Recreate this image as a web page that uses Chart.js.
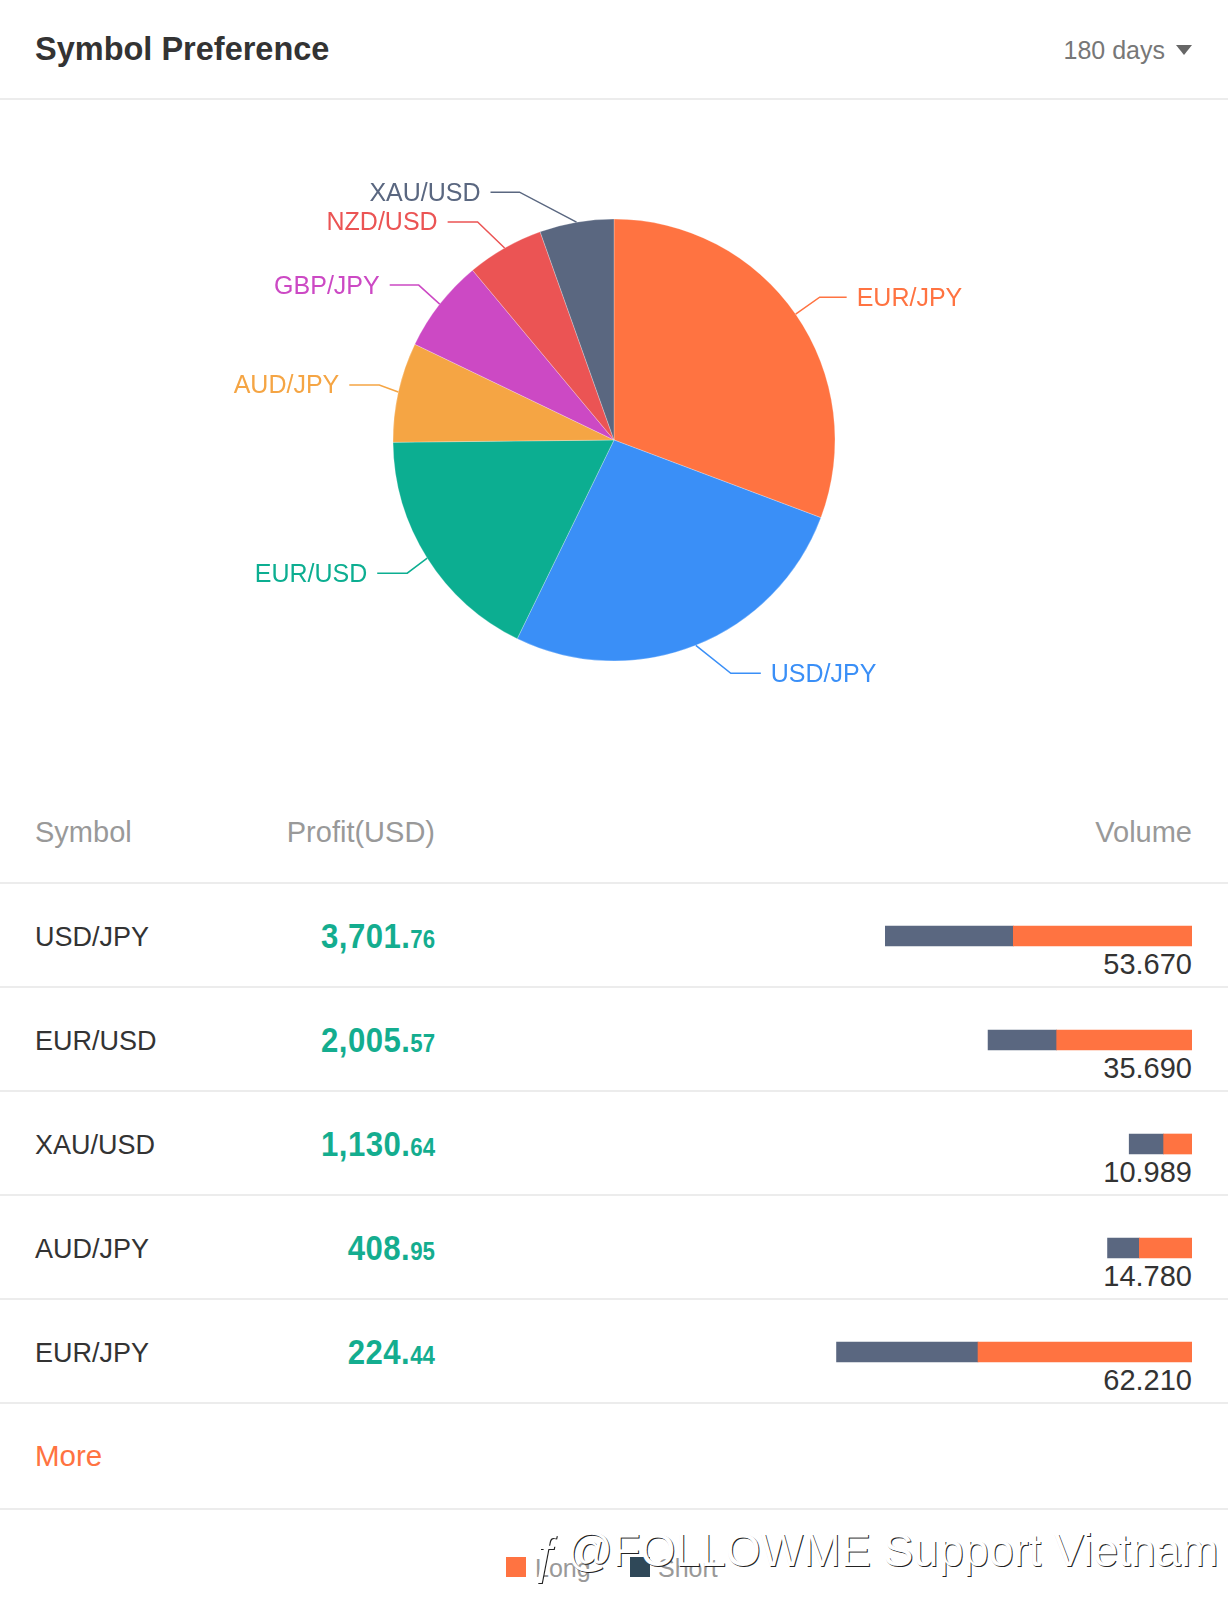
<!DOCTYPE html>
<html>
<head>
<meta charset="utf-8">
<script src="https://cdn.jsdelivr.net/npm/chart.js@4/dist/chart.umd.min.js"></script>
<style>
html,body{margin:0;padding:0;background:#fff}
body{position:relative;width:1228px;height:1618px;overflow:hidden;font-family:"Liberation Sans",sans-serif;color:#333}
.abs{position:absolute;white-space:nowrap}
.line{position:absolute;left:0;width:1228px;height:2px;background:#ececec}
.title{left:35px;top:24px;line-height:50px;font-size:32.5px;font-weight:bold;color:#333}
.range{right:63px;top:30px;line-height:40px;font-size:25px;color:#777}
.tri{position:absolute;left:1176px;top:45px;width:0;height:0;border-left:8px solid transparent;border-right:8px solid transparent;border-top:10px solid #666}
.head{top:812px;line-height:40px;font-size:29px;color:#999}
.sym{left:35px;line-height:40px;font-size:27px;color:#333}
.profit{right:793px;line-height:44px;font-weight:bold;font-size:35px;letter-spacing:0.5px;color:#14ad8f;transform:scaleX(.89);transform-origin:right center}
.profit small{font-size:25px;letter-spacing:0}
.vol{right:36px;line-height:36px;font-size:29px;color:#333}
.more{left:35px;top:1436px;line-height:40px;font-size:29.5px;color:#ff7341}
.sq{position:absolute;top:1557px;width:20px;height:20px}
.leg{top:1550px;line-height:36px;font-size:25px;color:#999}
.mark{left:567px;top:1520px;line-height:60px;font-size:46px;color:#fff;text-shadow:1px 1px 0 #222;transform:scaleX(.98);transform-origin:left center}
.logo{left:530px;top:1524px;line-height:60px;font-size:52px;color:#fff;text-shadow:1px 1px 0 #222;font-style:italic}
#pieBox{position:absolute;left:0;top:101px;width:1228px;height:678px}
#barBox{position:absolute;left:450px;top:884px;width:742px;height:520px}
</style>
</head>
<body>

<div class="abs title">Symbol Preference</div>
<div class="abs range">180 days</div>
<div class="tri"></div>
<div class="line" style="top:98px"></div>

<div id="pieBox"><canvas id="pieChart"></canvas></div>

<div class="abs head" style="left:35px">Symbol</div>
<div class="abs head" style="right:793px">Profit(USD)</div>
<div class="abs head" style="right:36px">Volume</div>
<div class="line" style="top:882px"></div>

<div id="rows"></div>
<div id="barBox"><canvas id="barChart"></canvas></div>

<div class="abs more">More</div>
<div class="line" style="top:1508px"></div>

<div class="sq" style="left:506px;background:#ff7341"></div>
<div class="abs leg" style="left:535px">Long</div>
<div class="sq" style="left:630px;background:#2f4858"></div>
<div class="abs leg" style="left:658px">Short</div>
<div class="abs logo">ƒ</div>
<div class="abs mark">@FOLLOWME Support Vietnam</div>

<script>
/* TABLE DATA */

const rows=[
{symbol:"USD/JPY",whole:"3,701.",cents:"76",volume:"53.670",long:31.27,short:22.40},
{symbol:"EUR/USD",whole:"2,005.",cents:"57",volume:"35.690",long:23.68,short:12.01},
{symbol:"XAU/USD",whole:"1,130.",cents:"64",volume:"10.989",long:4.96,short:6.03},
{symbol:"AUD/JPY",whole:"408.",cents:"95",volume:"14.780",long:9.22,short:5.56},
{symbol:"EUR/JPY",whole:"224.",cents:"44",volume:"62.210",long:37.45,short:24.76}
]

const rowBox=document.getElementById("rows")

rows.forEach((r,i)=>{
const mid=936+i*104
rowBox.insertAdjacentHTML("beforeend",
`<div class="abs sym" style="top:${mid-19}px">${r.symbol}</div>
<div class="abs profit" style="top:${mid-22}px">${r.whole}<small>${r.cents}</small></div>
<div class="abs vol" style="top:${mid+10}px">${r.volume}</div>
<div class="line" style="top:${mid+50}px"></div>`)
})

/* PIE DATA */

const pie=[
{label:"EUR/JPY",value:62.21,color:"#ff7341",dx:24,dy:-17,len:27},
{label:"USD/JPY",value:53.67,color:"#3a8ff7",dx:35,dy:28,len:30},
{label:"EUR/USD",value:35.69,color:"#0cae91",dx:-20,dy:15,len:30},
{label:"AUD/JPY",value:14.78,color:"#f5a544",dx:-19,dy:-7,len:30},
{label:"GBP/JPY",value:13.80,color:"#cc49c4",dx:-21,dy:-19,len:29},
{label:"NZD/USD",value:11.40,color:"#eb5454",dx:-27,dy:-26,len:30},
{label:"XAU/USD",value:10.989,color:"#5a6780",dx:-57,dy:-30,len:29}
]

/* leader lines and slice names */

const pieLabels={
id:"pieLabels",
afterDatasetsDraw(chart){
const c=chart.ctx
chart.getDatasetMeta(0).data.forEach((arc,i)=>{
const p=pie[i]
const a=(arc.startAngle+arc.endAngle)/2
const sx=arc.x+Math.cos(a)*arc.outerRadius
const sy=arc.y+Math.sin(a)*arc.outerRadius
const ex=sx+p.dx
const ey=sy+p.dy
const right=p.dx>0
const hx=ex+(right?p.len:-p.len)
c.save()
c.strokeStyle=p.color
c.lineWidth=1.5
c.beginPath()
c.moveTo(sx,sy)
c.lineTo(ex,ey)
c.lineTo(hx,ey)
c.stroke()
c.fillStyle=p.color
c.font='25px "Liberation Sans"'
c.textBaseline="middle"
c.textAlign=right?"left":"right"
c.fillText(p.label,hx+(right?10:-10),ey+1.5)
c.restore()
})
}
}

new Chart(document.getElementById("pieChart"),{
type:"pie",
data:{
labels:pie.map(p=>p.label),
datasets:[{
data:pie.map(p=>p.value),
backgroundColor:pie.map(p=>p.color),
borderColor:"rgba(255,255,255,0.25)",
borderWidth:1,
radius:221
}]
},
options:{
responsive:true,
maintainAspectRatio:false,
animation:false,
layout:{padding:0},
plugins:{legend:{display:false},tooltip:{enabled:false}}
},
plugins:[pieLabels]
})

/* VOLUME BARS */

new Chart(document.getElementById("barChart"),{
type:"bar",
data:{
labels:rows.map(r=>r.symbol),
datasets:[
{label:"Long",data:rows.map(r=>r.long),backgroundColor:"#ff7341",barThickness:20},
{label:"Short",data:rows.map(r=>r.short),backgroundColor:"#5a6780",barThickness:20}
]
},
options:{
indexAxis:"y",
responsive:true,
maintainAspectRatio:false,
animation:false,
layout:{padding:0},
plugins:{legend:{display:false},tooltip:{enabled:false}},
scales:{
x:{stacked:true,reverse:true,min:0,max:129.86,display:false},
y:{stacked:true,display:false}
}
}
})
</script>
</body>
</html>
